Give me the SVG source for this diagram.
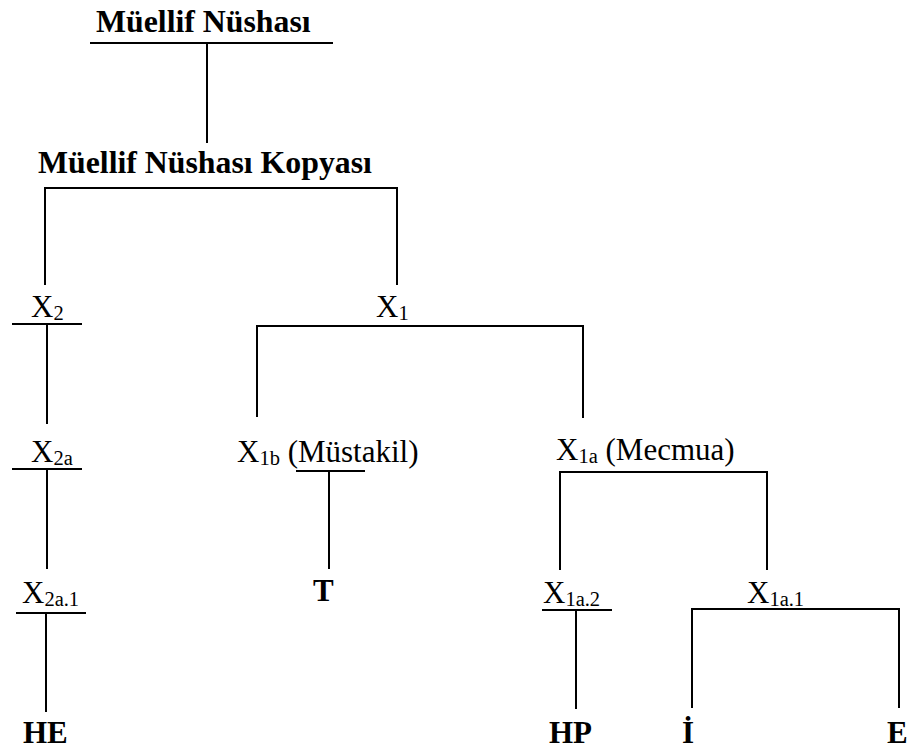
<svg xmlns="http://www.w3.org/2000/svg" width="910" height="749" viewBox="0 0 910 749">
<style>
text{font-family:'Liberation Serif','Times New Roman',serif;font-size:31px;fill:#000}
.b{font-weight:bold}
.t{font-size:31.8px}
.s{font-size:20.5px}
#connectors line,#connectors polyline{stroke:#000;stroke-width:2;fill:none}
</style>
<rect width="910" height="749" fill="#fff"/>
<g id="connectors">
<line x1="90" y1="43" x2="333" y2="43"/>
<line x1="207" y1="43" x2="207" y2="143"/>
<polyline points="45,285 45,188 397,188 397,285"/>
<line x1="12" y1="324" x2="82" y2="324"/>
<line x1="47" y1="324" x2="47" y2="424"/>
<polyline points="257,417 257,326 583,326 583,418"/>
<line x1="12" y1="469" x2="82" y2="469"/>
<line x1="47" y1="469" x2="47" y2="569"/>
<line x1="296" y1="471" x2="365" y2="471"/>
<line x1="329" y1="471" x2="329" y2="569"/>
<polyline points="560,570 560,472 767,472 767,570"/>
<line x1="16" y1="613" x2="86" y2="613"/>
<line x1="46" y1="613" x2="46" y2="712"/>
<line x1="542" y1="610" x2="612" y2="610"/>
<line x1="576" y1="610" x2="576" y2="709"/>
<polyline points="692,708 692,609 899,609 899,708"/>
</g>
<g id="n-muellif"><text class="b t" x="96" y="32">Müellif Nüshası</text></g>
<g id="n-kopya"><text class="b t" x="38" y="173">Müellif Nüshası Kopyası</text></g>
<g id="n-x2"><text x="31" y="317">X<tspan class="s" dy="3">2</tspan></text></g>
<g id="n-x1"><text x="376" y="317">X<tspan class="s" dy="3">1</tspan></text></g>
<g id="n-x2a"><text x="31" y="462">X<tspan class="s" dy="3">2a</tspan></text></g>
<g id="n-x1b"><text x="237" y="462">X<tspan class="s" dy="3">1b</tspan><tspan dy="-3"> (Müstakil)</tspan></text></g>
<g id="n-x1a"><text x="556" y="460">X<tspan class="s" dy="3">1a</tspan><tspan dy="-3"> (Mecmua)</tspan></text></g>
<g id="n-x2a1"><text x="22" y="603">X<tspan class="s" dy="3">2a.1</tspan></text></g>
<g id="n-t"><text class="b" x="313" y="601">T</text></g>
<g id="n-x1a2"><text x="543" y="603">X<tspan class="s" dy="3">1a.2</tspan></text></g>
<g id="n-x1a1"><text x="747" y="603">X<tspan class="s" dy="3">1a.1</tspan></text></g>
<g id="n-he"><text class="b" x="23" y="743">HE</text></g>
<g id="n-hp"><text class="b" x="549" y="743">HP</text></g>
<g id="n-i"><text class="b" x="682" y="743">İ</text></g>
<g id="n-e"><text class="b" x="887" y="743">E</text></g>
</svg>
